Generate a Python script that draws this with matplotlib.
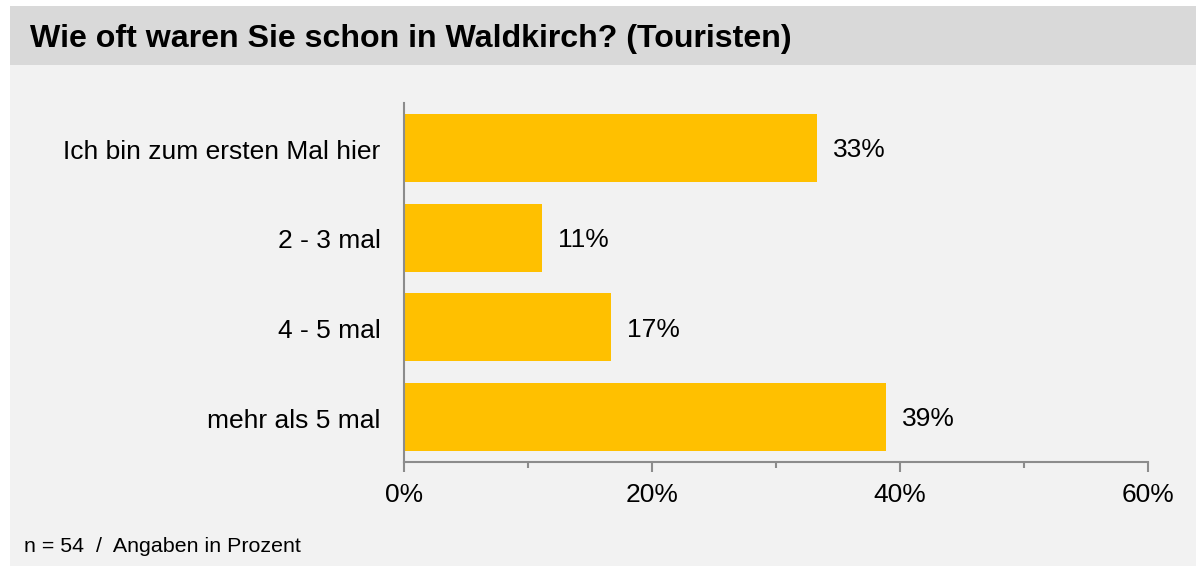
import matplotlib.pyplot as plt
from matplotlib.patches import Rectangle
from matplotlib.ticker import MultipleLocator, FuncFormatter

plt.rcParams["font.family"] = ["Liberation Sans", "DejaVu Sans"]

categories = ["Ich bin zum ersten Mal hier", "2 - 3 mal", "4 - 5 mal", "mehr als 5 mal"]
values = [33.3, 11.1, 16.7, 38.9]
labels = ["33%", "11%", "17%", "39%"]

fig = plt.figure(figsize=(11.98, 5.66), dpi=100)
fig.patch.set_facecolor("white")

# panel background and title bar
bg = fig.add_axes([0, 0, 1, 1], zorder=-5)
bg.set_axis_off()
bg.set_xlim(0, 1198)
bg.set_ylim(566, 0)
bg.add_patch(Rectangle((10, 6), 1186, 560, facecolor="#f2f2f2", edgecolor="none"))
bg.add_patch(Rectangle((10, 6), 1186, 59, facecolor="#d9d9d9", edgecolor="none"))
bg.text(30, 47, "Wie oft waren Sie schon in Waldkirch? (Touristen)",
        fontsize=23.1, fontweight="bold", va="baseline", ha="left", color="black")
bg.text(24, 552, "n = 54  /  Angaben in Prozent", fontsize=15.4,
        va="baseline", ha="left")

ax = fig.add_axes([404 / 1198, 1 - 462 / 566, 744 / 1198, 359 / 566])
ax.set_facecolor("none")

y = list(range(len(categories)))
ax.barh(y, values, height=0.76, color="#ffc000", edgecolor="none", zorder=2)
for yi, v, lab in zip(y, values, labels):
    ax.text(v + 1.3, yi + 0.025, lab, va="center", ha="left", fontsize=19)

ax.set_ylim(3.5, -0.5)
ax.set_xlim(0, 60)
ax.set_yticks([yi + 0.015 for yi in y])
ax.set_yticklabels(categories, fontsize=19)
ax.xaxis.set_major_locator(MultipleLocator(20))
ax.xaxis.set_minor_locator(MultipleLocator(10))
ax.xaxis.set_major_formatter(FuncFormatter(lambda v, p: f"{v:.0f}%"))
ax.tick_params(axis="x", which="major", length=7, width=1.5, color="#8c8c8c",
               labelsize=19, pad=8)
ax.tick_params(axis="x", which="minor", length=4, width=1.5, color="#8c8c8c")
ax.tick_params(axis="y", length=0, pad=17)

for s in ["top", "right"]:
    ax.spines[s].set_visible(False)
for s in ["left", "bottom"]:
    ax.spines[s].set_color("#8c8c8c")
    ax.spines[s].set_linewidth(1.5)

fig.savefig("out.png", dpi=100)
